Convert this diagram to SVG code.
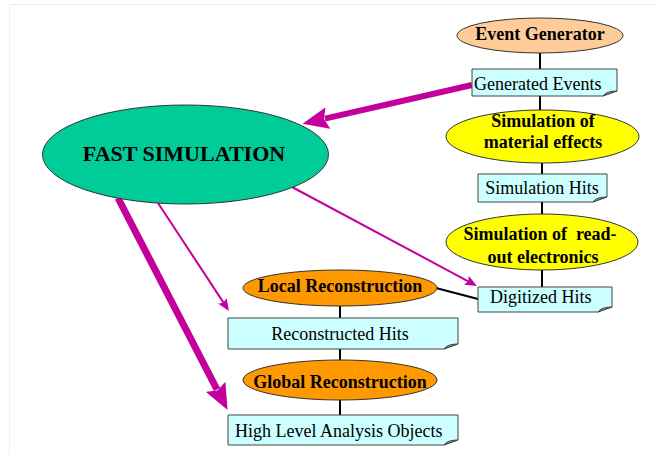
<svg xmlns="http://www.w3.org/2000/svg" width="655" height="455" viewBox="0 0 655 455">
<style>
.ell{stroke:#333;stroke-width:1}
.box{fill:#ccffff;stroke:#444;stroke-width:1}
.fold{fill:#9cc;stroke:#444;stroke-width:1}
.bt{font-family:"Liberation Serif","Times New Roman",serif;font-weight:bold;font-size:18px;fill:#000}
.big{font-size:22px}
.nt{font-family:"Liberation Serif","Times New Roman",serif;font-size:18px;fill:#000}
.ln{stroke:#000;stroke-width:2;fill:none}
.mg{stroke:#c4009c;fill:none}
</style>
<defs>
<marker id="thick" markerUnits="userSpaceOnUse" markerWidth="26" markerHeight="22" viewBox="0 0 26 22" refX="3" refY="11" orient="auto">
<path d="M0,0 L26,11 L0,22 L4,11 z" fill="#c4009c"/>
</marker>
<marker id="thin" markerUnits="userSpaceOnUse" markerWidth="12" markerHeight="10" viewBox="0 0 12 10" refX="2" refY="5" orient="auto">
<path d="M0,0 L12,5 L0,10 L2,5 z" fill="#c4009c"/>
</marker>
</defs>
<rect width="655" height="455" fill="#fff"/>
<path d="M9.5,455 V4.5 H655" stroke="#eeeeee" fill="none"/>

<g id="connectors">
<line class="ln" x1="540" y1="53" x2="540" y2="110"/>
<line class="ln" x1="542" y1="163" x2="542" y2="214"/>
<line class="ln" x1="542" y1="270" x2="542" y2="287"/>
<line class="ln" x1="436" y1="288" x2="478" y2="299"/>
<line class="ln" x1="340" y1="306" x2="340" y2="415"/>
<line class="mg" stroke-width="6" x1="472" y1="85" x2="325" y2="118.7" marker-end="url(#thick)"/>
<line class="mg" stroke-width="7" x1="118" y1="198" x2="217" y2="389.5" marker-end="url(#thick)"/>
<line class="mg" stroke-width="2" x1="292" y1="187" x2="468.2" y2="281.3" marker-end="url(#thin)"/>
<line class="mg" stroke-width="2" x1="158" y1="203" x2="223.5" y2="302.6" marker-end="url(#thin)"/>
</g>

<g id="event-generator">
<ellipse class="ell" cx="540" cy="35.5" rx="83" ry="17.5" fill="#ffcc99"/>
<text class="bt" x="540" y="40" text-anchor="middle">Event Generator</text>
</g>

<g id="generated-events">
<path class="box" d="M472,69 H617 V91 L603,96 H472 Z"/>
<path class="fold" d="M603,96 Q606,91 617,91 Q609,93 603,96 Z"/>
<text class="nt" x="474" y="90">Generated Events</text>
</g>

<g id="sim-material">
<ellipse class="ell" cx="542.5" cy="136.5" rx="96.5" ry="26.5" fill="#ffff00"/>
<text class="bt" x="543" y="127" text-anchor="middle">Simulation of</text>
<text class="bt" x="543" y="147.5" text-anchor="middle">material effects</text>
</g>

<g id="simulation-hits">
<path class="box" d="M478,174 H607 V197 L593,202 H478 Z"/>
<path class="fold" d="M593,202 Q596,197 607,197 Q599,199 593,202 Z"/>
<text class="nt" x="542" y="194" text-anchor="middle">Simulation Hits</text>
</g>

<g id="sim-readout">
<ellipse class="ell" cx="542" cy="242" rx="96" ry="28" fill="#ffff00"/>
<text class="bt" x="540" y="240" text-anchor="middle" xml:space="preserve">Simulation of  read-</text>
<text class="bt" x="543" y="262.5" text-anchor="middle">out electronics</text>
</g>

<g id="digitized-hits">
<path class="box" d="M478,287 H612 V307 L598,312 H478 Z"/>
<path class="fold" d="M598,312 Q601,307 612,307 Q604,309 598,312 Z"/>
<text class="nt" x="490" y="303">Digitized Hits</text>
</g>

<g id="fast-simulation">
<ellipse class="ell" cx="185.5" cy="154.5" rx="143" ry="49.5" fill="#00cc99"/>
<text class="bt big" x="184" y="161" text-anchor="middle">FAST SIMULATION</text>
</g>

<g id="local-reconstruction">
<ellipse class="ell" cx="340" cy="288" rx="97" ry="18" fill="#ff9900"/>
<text class="bt" x="340" y="292" text-anchor="middle">Local Reconstruction</text>
</g>

<g id="reconstructed-hits">
<path class="box" d="M228,318 H458 V344 L444,349 H228 Z"/>
<path class="fold" d="M444,349 Q447,344 458,344 Q450,346 444,349 Z"/>
<text class="nt" x="340" y="340" text-anchor="middle">Reconstructed Hits</text>
</g>

<g id="global-reconstruction">
<ellipse class="ell" cx="340" cy="380" rx="97" ry="20" fill="#ff9900"/>
<text class="bt" x="340" y="388" text-anchor="middle">Global Reconstruction</text>
</g>

<g id="high-level">
<path class="box" d="M228,415 H458 V440 L444,445 H228 Z"/>
<path class="fold" d="M444,445 Q447,440 458,440 Q450,442 444,445 Z"/>
<text class="nt" x="235" y="437">High Level Analysis Objects</text>
</g>
</svg>
